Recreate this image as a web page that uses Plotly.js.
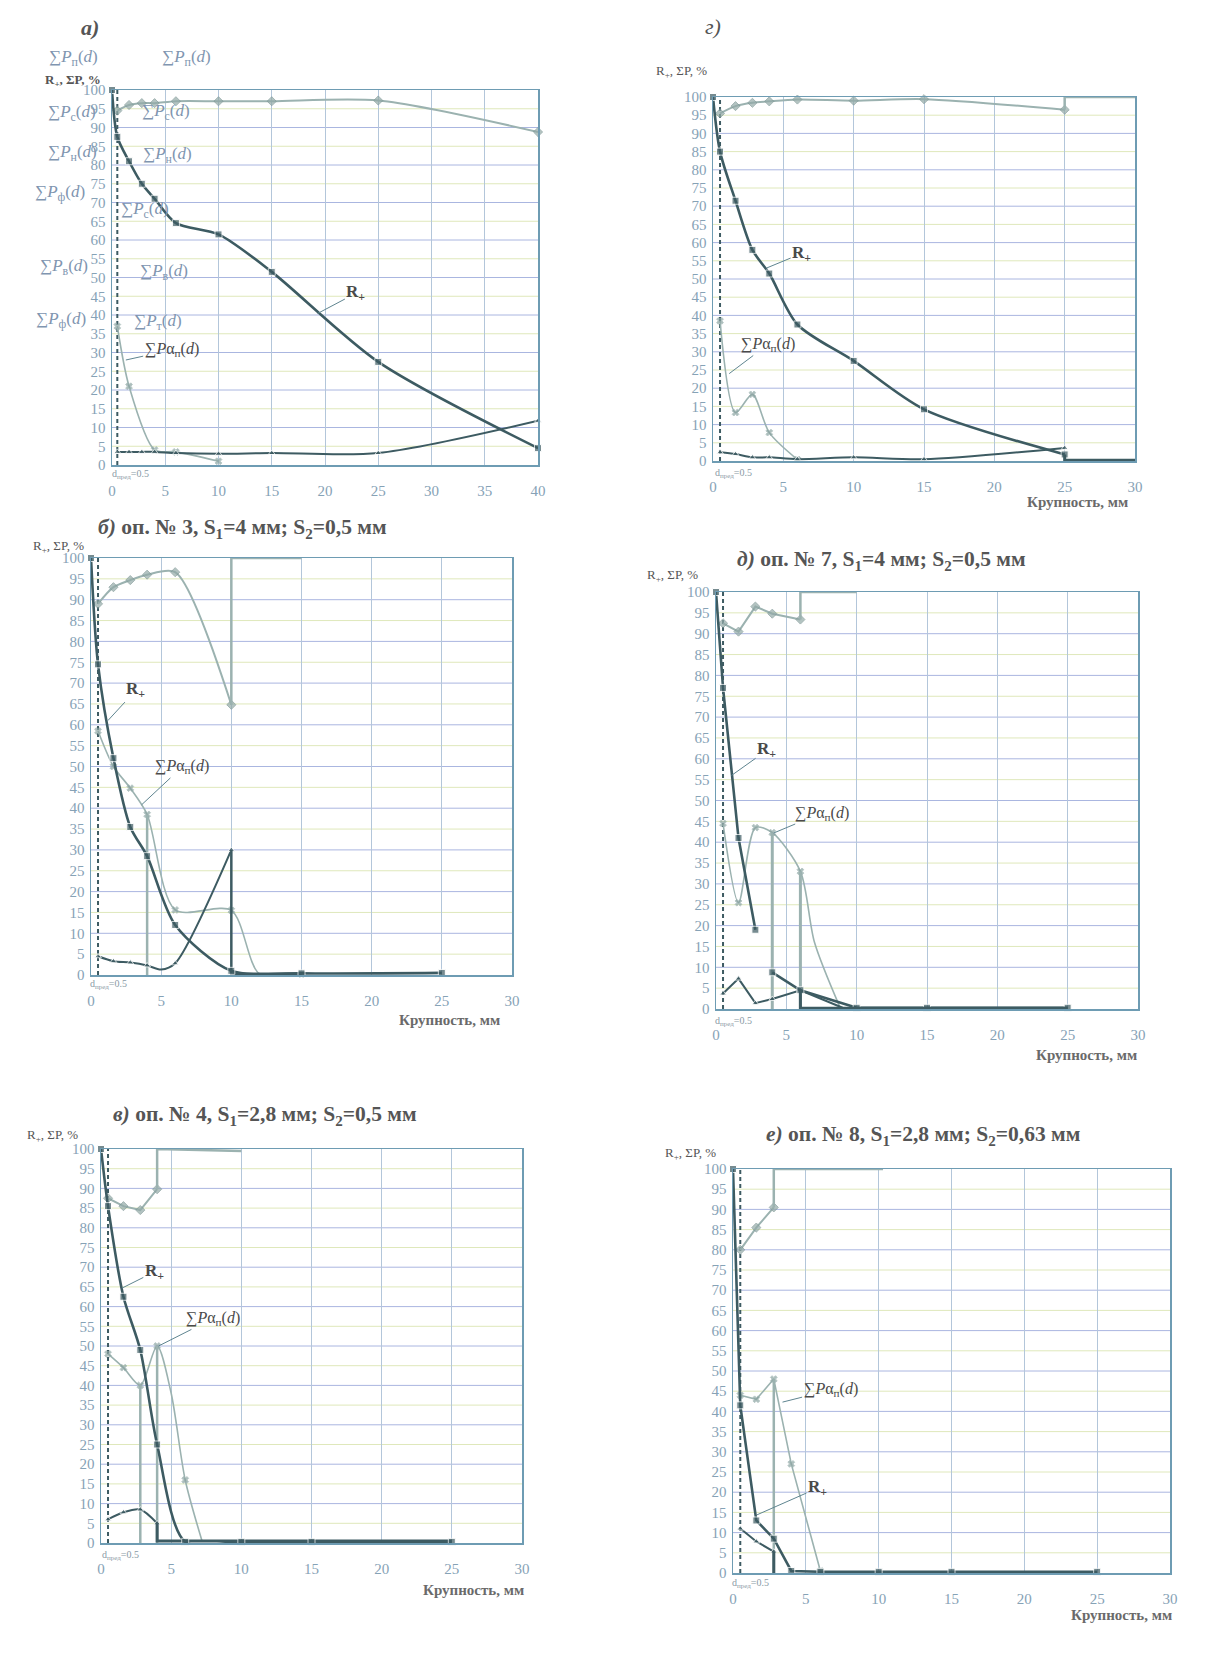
<!DOCTYPE html>
<html><head><meta charset="utf-8">
<script src="https://cdn.plot.ly/plotly-3.0.1.min.js"></script>
<style>html,body{margin:0;padding:0;background:#fff}#chart{width:1213px;height:1655px}</style>
</head><body><div id="chart"></div>
<script>
// ---------------- DATA ----------------
// sieve sizes carrying markers
const sieves = [0, 0.5, 1.6, 2.8, 4, 6, 10, 15, 25, 40];

// panel а)
const a_R_x = [0, 0.5, 1.6, 2.8, 4, 6, 10, 15, 25, 40];
const a_R_y = [100, 87.5, 81, 75, 71, 64.5, 61.5, 51.5, 27.5, 4.5];
const a_P_x = [0.5, 1.6, 2.8, 4, 6, 10, 15, 25, 40];
const a_P_y = [94.5, 96, 96.5, 96.5, 97, 97, 97, 97.2, 88.8];
const a_Pa_x = [0.5, 1.6, 4, 6, 10];
const a_Pa_y = [37, 21, 4, 3.5, 1];
const a_T_x = [0.5, 1.6, 2.8, 4, 6, 10, 15, 25, 40];
const a_T_y = [3.5, 3.5, 3.5, 3.5, 3.2, 3, 3.2, 3.2, 11.8];

// panel г)
const g_R_x = [0, 0.5, 1.6, 2.8, 4, 6, 10, 15, 25];
const g_R_y = [100, 85, 71.5, 58, 51.5, 37.5, 27.5, 14.2, 1.8];
const g_Rtail_x = [25, 25, 30];
const g_Rtail_y = [1.8, 0.3, 0.2];
const g_P_x = [0.5, 1.6, 2.8, 4, 6, 10, 15, 25];
const g_P_y = [95.5, 97.5, 98.4, 98.8, 99.3, 99, 99.4, 96.5];
const g_Pstep_x = [25, 25, 30];
const g_Pstep_y = [96.5, 100, 100];
const g_Pa_x = [0.5, 1.6, 2.8, 4, 6];
const g_Pa_y = [38.5, 13.3, 18.3, 7.8, 0.4];
const g_T_x = [0.5, 1.6, 2.8, 4, 6, 10, 15, 25];
const g_T_y = [2.4, 1.9, 1, 1, 0.5, 1, 0.5, 3.6];

// panel б) оп. № 3
const b_R_x = [0, 0.5, 1.6, 2.8, 4, 6, 10, 15, 25];
const b_R_y = [100, 74.5, 52, 35.5, 28.5, 12, 1, 0.4, 0.5];
const b_P_x = [0.5, 1.6, 2.8, 4, 6, 10];
const b_P_y = [89, 93, 94.7, 96, 96.6, 64.8];
const b_Pstep_x = [10, 10, 15];
const b_Pstep_y = [64.8, 100, 100];
const b_Pa_x = [0.5, 1.6, 2.8, 4, 6, 10, 12, 15];
const b_Pa_y = [58.5, 50, 44.8, 38.5, 15.6, 15.5, 0.3, 0.2];
const b_Pavert_x = [4, 4];
const b_Pavert_y = [38.5, 0];
const b_T_x = [0.5, 1.6, 2.8, 4, 5, 6, 10];
const b_T_y = [4.5, 3.3, 3, 2.3, 1.3, 2.8, 30];
const b_Tvert_x = [10, 10, 15];
const b_Tvert_y = [30, 0.3, 0.3];

// panel д) оп. № 7
const d_R_x = [0, 0.5, 1.6, 2.8, null, 4, 6, 10, 15, 25];
const d_R_y = [100, 77, 41, 19, null, 8.8, 4.5, 0.3, 0.3, 0.3];
const d_Rvert_x = [6, 6, 25];
const d_Rvert_y = [4.5, 0.2, 0.2];
const d_P_x = [0.5, 1.6, 2.8, 4, 6];
const d_P_y = [92.5, 90.5, 96.5, 94.8, 93.4];
const d_Pstep_x = [6, 6, 10];
const d_Pstep_y = [93.4, 100, 100];
const d_Pa_x = [0.5, 1.6, 2.8, 4, 6, 7, 8.8];
const d_Pa_y = [44.5, 25.5, 43.5, 42.3, 33, 16, 0.5];
const d_Pavert1_x = [4, 4];
const d_Pavert1_y = [42.3, 0];
const d_Pavert2_x = [6, 6];
const d_Pavert2_y = [33, 0];
const d_T_x = [0.5, 1.6, 2.8, 4, 6, 9];
const d_T_y = [3.7, 7.3, 1.4, 2.4, 4.5, 0.3];

// panel в) оп. № 4
const v_R_x = [0, 0.5, 1.6, 2.8, 4, 6, 10, 15, 25];
const v_R_y = [100, 85.5, 62.5, 49, 25, 0.3, 0.3, 0.3, 0.3];
const v_P_x = [0.5, 1.6, 2.8, 4];
const v_P_y = [87.5, 85.5, 84.5, 89.8];
const v_Pstep_x = [4, 4, 10];
const v_Pstep_y = [89.8, 100, 99.5];
const v_Pa_x = [0.5, 1.6, 2.8, 4, 5, 6, 7.2];
const v_Pa_y = [48, 44.5, 40, 50, 38, 16, 0.5];
const v_Pavert1_x = [2.8, 2.8];
const v_Pavert1_y = [40, 0];
const v_Pavert2_x = [4, 4];
const v_Pavert2_y = [50, 0];
const v_T_x = [0.5, 1.6, 2.8, 4];
const v_T_y = [6, 7.8, 8.5, 5];
const v_Tvert_x = [4, 4, 25];
const v_Tvert_y = [5, 0.5, 0.5];

// panel е) оп. № 8
const e_R_x = [0, 0.5, 1.6, 2.8, 4, 6, 10, 15, 25];
const e_R_y = [100, 41.5, 13, 8.5, 0.5, 0.3, 0.3, 0.3, 0.3];
const e_P_x = [0.5, 1.6, 2.8];
const e_P_y = [80, 85.5, 90.5];
const e_Pstep_x = [2.8, 2.8, 10.3];
const e_Pstep_y = [90.5, 100, 100];
const e_Pa_x = [0.5, 1.6, 2.8, 4, 6];
const e_Pa_y = [44, 43, 48, 27, 0.5];
const e_Pavert_x = [2.8, 2.8];
const e_Pavert_y = [48, 0];
const e_T_x = [0.5, 1.6, 2.8];
const e_T_y = [11, 7.8, 5.3];
const e_Tvert_x = [2.8, 2.8];
const e_Tvert_y = [5.3, 0];

const dpred = 0.5;
const yTicks = [0,5,10,15,20,25,30,35,40,45,50,55,60,65,70,75,80,85,90,95,100];

// ---------------- STYLE ----------------
const W = 1213, H = 1655;
const DARK = '#3d5b62', LIGHT = '#9bb2b0', TICK = '#86a2b6', FRAME = '#6e9cb3';
const GRIDV = '#b3c6da', GRIDB = '#aab6e0', GRIDG = '#dfe8bb';
const SERIF = 'Liberation Serif, Times New Roman, serif';

// panel pixel boxes: [left, top, right, bottom]
const boxes = {
  '': [112, 90, 538, 465],
  '2': [713, 97, 1135, 461],
  '3': [91, 558, 512, 975],
  '4': [716, 592, 1138, 1009],
  '5': [101, 1149, 522, 1543],
  '6': [733, 1169, 1170, 1573]
};
const xmax = {'': 40, '2': 30, '3': 30, '4': 30, '5': 30, '6': 30};

const layout = {
  width: W, height: H, margin: {l: 0, r: 0, t: 0, b: 0},
  paper_bgcolor: '#fff', plot_bgcolor: 'rgba(0,0,0,0)',
  showlegend: false, shapes: [], annotations: [],
  font: {family: SERIF, color: '#555'}
};

Object.keys(boxes).forEach(k => {
  const [l, t, r, b] = boxes[k];
  layout['xaxis' + k] = {
    domain: [l / W, r / W], range: [0, xmax[k]], dtick: 5, tick0: 0,
    showgrid: true, gridcolor: GRIDV, gridwidth: 1, zeroline: false,
    showline: true, mirror: true, linecolor: FRAME, linewidth: 1.5,
    ticks: '', ticklabelstandoff: 11,
    tickfont: {family: SERIF, size: 15, color: TICK}, anchor: 'y' + k, fixedrange: true
  };
  layout['yaxis' + k] = {
    domain: [1 - b / H, 1 - t / H], range: [0, 100], tickvals: yTicks,
    showgrid: false, zeroline: false,
    showline: true, mirror: true, linecolor: FRAME, linewidth: 1.5,
    ticks: '', ticklabelstandoff: 2,
    tickfont: {family: SERIF, size: 15, color: TICK}, anchor: 'x' + k, fixedrange: true
  };
  yTicks.forEach(v => {
    if (v === 0 || v === 100) return;
    layout.shapes.push({type: 'line', layer: 'below', xref: 'x' + k + ' domain', yref: 'y' + k,
      x0: 0, x1: 1, y0: v, y1: v, line: {color: v % 10 === 0 ? GRIDB : GRIDG, width: 1}});
  });
});

const traces = [];
function sizes(xs, s) { return xs.map(x => (x !== null && sieves.includes(x)) ? s : 0); }
function addR(k, xs, ys, shape) {
  traces.push({x: xs, y: ys, xaxis: 'x' + k, yaxis: 'y' + k, mode: 'lines+markers',
    line: {color: DARK, width: 2.6, shape: shape || 'spline', smoothing: 0.8},
    marker: {symbol: 'square', size: sizes(xs, 7), color: DARK}, cliponaxis: false});
}
function addP(k, xs, ys, shape) {
  traces.push({x: xs, y: ys, xaxis: 'x' + k, yaxis: 'y' + k, mode: 'lines+markers',
    line: {color: LIGHT, width: 2, shape: shape || 'spline', smoothing: 0.8},
    marker: {symbol: 'diamond', size: sizes(xs, 7), color: '#93aaa8', line: {color: '#7d9694', width: 1}}, cliponaxis: false});
}
function addPa(k, xs, ys, shape) {
  traces.push({x: xs, y: ys, xaxis: 'x' + k, yaxis: 'y' + k, mode: 'lines+markers',
    line: {color: LIGHT, width: 1.6, shape: shape || 'spline', smoothing: 0.8},
    marker: {symbol: 'x', size: sizes(xs, 6), color: '#8aa3a1'}, cliponaxis: false});
}
function addT(k, xs, ys, shape) {
  traces.push({x: xs, y: ys, xaxis: 'x' + k, yaxis: 'y' + k, mode: 'lines+markers',
    line: {color: DARK, width: 2, shape: shape || 'spline', smoothing: 0.8},
    marker: {symbol: 'triangle-up', size: sizes(xs, 6), color: DARK}, cliponaxis: false});
}
function addLine(k, xs, ys, color, width) {
  traces.push({x: xs, y: ys, xaxis: 'x' + k, yaxis: 'y' + k, mode: 'lines',
    line: {color: color, width: width, shape: 'linear'}});
}
function addDpred(k) {
  traces.push({x: [dpred, dpred], y: [0, 100], xaxis: 'x' + k, yaxis: 'y' + k, mode: 'lines',
    line: {color: DARK, width: 2, dash: '4px,3px'}});
}

// а)
addDpred('');
addP('', a_P_x, a_P_y);
addPa('', a_Pa_x, a_Pa_y);
addT('', a_T_x, a_T_y);
addR('', a_R_x, a_R_y);
// г)
addDpred('2');
addP('2', g_P_x, g_P_y);
addLine('2', g_Pstep_x, g_Pstep_y, LIGHT, 2.5);
addPa('2', g_Pa_x, g_Pa_y);
addT('2', g_T_x, g_T_y);
addR('2', g_R_x, g_R_y);
addLine('2', g_Rtail_x, g_Rtail_y, DARK, 3);
// б)
addDpred('3');
addP('3', b_P_x, b_P_y);
addLine('3', b_Pstep_x, b_Pstep_y, LIGHT, 2.5);
addPa('3', b_Pa_x, b_Pa_y);
addLine('3', b_Pavert_x, b_Pavert_y, LIGHT, 2.5);
addT('3', b_T_x, b_T_y);
addLine('3', b_Tvert_x, b_Tvert_y, DARK, 2.5);
addR('3', b_R_x, b_R_y);
// д)
addDpred('4');
addP('4', d_P_x, d_P_y, 'linear');
addLine('4', d_Pstep_x, d_Pstep_y, LIGHT, 2.5);
addPa('4', d_Pa_x, d_Pa_y);
addLine('4', d_Pavert1_x, d_Pavert1_y, LIGHT, 3);
addLine('4', d_Pavert2_x, d_Pavert2_y, LIGHT, 3);
addT('4', d_T_x, d_T_y, 'linear');
addR('4', d_R_x, d_R_y, 'linear');
addLine('4', d_Rvert_x, d_Rvert_y, DARK, 3);
// в)
addDpred('5');
addP('5', v_P_x, v_P_y, 'linear');
addLine('5', v_Pstep_x, v_Pstep_y, LIGHT, 2.5);
addPa('5', v_Pa_x, v_Pa_y);
addLine('5', v_Pavert1_x, v_Pavert1_y, LIGHT, 2.5);
addLine('5', v_Pavert2_x, v_Pavert2_y, LIGHT, 2.5);
addT('5', v_T_x, v_T_y);
addLine('5', v_Tvert_x, v_Tvert_y, DARK, 3);
addR('5', v_R_x, v_R_y);
// е)
addDpred('6');
addP('6', e_P_x, e_P_y, 'linear');
addLine('6', e_Pstep_x, e_Pstep_y, LIGHT, 2.5);
addPa('6', e_Pa_x, e_Pa_y, 'linear');
addLine('6', e_Pavert_x, e_Pavert_y, LIGHT, 2.5);
addT('6', e_T_x, e_T_y, 'linear');
addLine('6', e_Tvert_x, e_Tvert_y, DARK, 3);
addR('6', e_R_x, e_R_y, 'linear');

// ---------------- TEXT ----------------
function paperText(px, py, text, size, opts) {
  layout.annotations.push(Object.assign({xref: 'paper', yref: 'paper', x: px / W, y: 1 - py / H,
    xanchor: 'center', yanchor: 'middle', showarrow: false, text: text,
    font: {family: SERIF, size: size, color: '#555'}}, opts || {}));
}
function callout(k, x, y, ax, ay, text, size) {
  layout.annotations.push({xref: 'x' + k, yref: 'y' + k, axref: 'x' + k, ayref: 'y' + k,
    x: x, y: y, ax: ax, ay: ay, text: text, showarrow: true, arrowhead: 0, arrowwidth: 1,
    arrowcolor: '#5f8590', font: {family: SERIF, size: size, color: '#4a4a4a'}});
}
const RPLUS = '<b>R<sub>+</sub></b>';
const SPA = '∑<i>P</i>α<sub>п</sub>(<i>d</i>)';
const YLAB = 'R<sub>+</sub>, ΣP, %';
const XLAB = '<b>Крупность, мм</b>';
const DLAB = 'd<sub>пред</sub>=0.5';

// panel titles
paperText(90, 28, '<b><i>а)</i></b>', 22);
paperText(713, 27, '<i>г)</i>', 22);
paperText(242, 528, '<b><i>б)</i> оп. № 3, S<sub>1</sub>=4 мм; S<sub>2</sub>=0,5 мм</b>', 21.5);
paperText(881, 560, '<b><i>д)</i> оп. № 7, S<sub>1</sub>=4 мм; S<sub>2</sub>=0,5 мм</b>', 21.5);
paperText(265, 1115, '<b><i>в)</i> оп. № 4, S<sub>1</sub>=2,8 мм; S<sub>2</sub>=0,5 мм</b>', 21.5);
paperText(923, 1135, '<b><i>е)</i> оп. № 8, S<sub>1</sub>=2,8 мм; S<sub>2</sub>=0,63 мм</b>', 21.5);

// y labels
paperText(73, 80, '<b>' + YLAB + '</b>', 13);
paperText(681, 72, YLAB, 13);
paperText(58, 547, YLAB, 13);
paperText(672, 576, YLAB, 13);
paperText(52, 1135, YLAB, 13);
paperText(690, 1153, YLAB, 13);

// x labels
const xlabFont = {family: SERIF, size: 15, color: '#6a6a6a'};
paperText(1077, 502, XLAB, 15, {font: xlabFont});
paperText(450, 1020, XLAB, 15, {font: xlabFont});
paperText(1086, 1055, XLAB, 15, {font: xlabFont});
paperText(473, 1590, XLAB, 15, {font: xlabFont});
paperText(1121, 1615, XLAB, 15, {font: xlabFont});

// d_пред labels
[[130, 474], [733, 473], [108, 984], [733, 1021], [120, 1555], [750, 1583]].forEach(p =>
  paperText(p[0], p[1], DLAB, 10, {font: {family: SERIF, size: 10, color: '#8a9aa6'}}));

// stray overprinted labels in panel а)
const ghost = {family: SERIF, size: 17, color: '#8095b0'};
[[73, 58, 'п'], [186, 58, 'п'], [72, 113, 'с'], [166, 112, 'с'], [72, 153, 'н'], [167, 155, 'н'],
 [60, 193, 'ф'], [145, 210, 'с'], [64, 267, 'в'], [164, 272, 'в'], [61, 320, 'ф'], [158, 322, 'т']]
  .forEach(p => paperText(p[0], p[1], '∑<i>P</i><sub>' + p[2] + '</sub>(<i>d</i>)', 17, {font: ghost}));

// callouts
callout('', 19.3, 40.4, 22.9, 45.8, RPLUS, 17);
callout('', 1.3, 28, 5.6, 30.7, SPA, 16);
callout('2', 3.8, 53, 6.3, 57, RPLUS, 17);
callout('2', 1.15, 24, 3.9, 32, SPA, 16);
callout('3', 1.2, 61, 3.2, 68.3, RPLUS, 17);
callout('3', 3.6, 40.8, 6.5, 49.9, SPA, 16);
callout('4', 1.1, 56, 3.6, 62, RPLUS, 17);
callout('4', 4.1, 42.2, 7.5, 47, SPA, 16);
callout('5', 1.5, 64.7, 3.8, 68.8, RPLUS, 17);
callout('5', 4.1, 50, 8.0, 57, SPA, 16);
callout('6', 1.65, 14.4, 5.8, 21, RPLUS, 17);
callout('6', 3.4, 42.3, 6.7, 45.3, SPA, 16);

Plotly.newPlot('chart', traces, layout, {displayModeBar: false, staticPlot: true});
</script></body></html>
